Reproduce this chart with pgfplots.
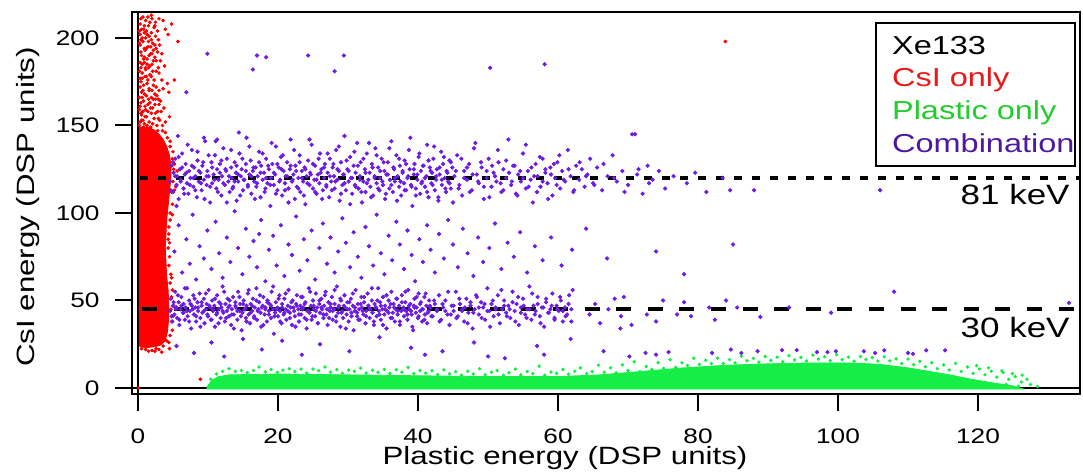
\documentclass[border=0pt]{standalone}
\usepackage{fontspec}
\setmainfont{Liberation Sans}[FakeStretch=1.25]
\usepackage{pgfplots}
\pgfplotsset{compat=1.18}
\definecolor{cred}{RGB}{255,0,0}
\definecolor{cgreen}{RGB}{20,238,70}
\definecolor{cpurp}{RGB}{108,28,228}
\definecolor{lred}{RGB}{232,25,25}
\definecolor{lgreen}{RGB}{35,205,45}
\definecolor{lpurp}{RGB}{78,25,160}
\begin{document}
\begin{tikzpicture}
\useasboundingbox (0,0) rectangle (541.5pt,237.5pt);
\begin{axis}[
  at={(66pt,40.5pt)}, anchor=south west,
  scale only axis, width=474pt, height=191pt,
  xmin=-0.857, xmax=134.57, ymin=-3.43, ymax=214.86,
  xtick={0,20,...,120}, ytick={0,50,...,200},
  xtick pos=left, ytick pos=left,
  tick align=outside, major tick length=8.5pt,
  every tick/.style={black, line width=1pt},
  axis line style={line width=1pt},
  /pgf/number format/assume math mode=true,
  tick label style={font=\fontsize{10.5}{12}\selectfont},
  xticklabel style={inner sep=0pt, anchor=north, yshift=-8.5pt},
  yticklabel style={inner sep=0pt, anchor=east, xshift=-7.5pt},
  clip=true,
]
% zero lines
\addplot[black, line width=0.8pt] coordinates {(-1,0) (135,0)};
\addplot[black, line width=0.8pt] coordinates {(0,-4) (0,215)};
% plastic only: dense core
\addplot[fill=cgreen, draw=cgreen, line width=0.4pt] coordinates {
(9.8,-0.6)(10.0,1.5)(10.6,4.5)(11.5,6.5)(13,7.5)(20,8)(30,7.5)(40,7)(50,6.5)(60,6.5)(66,7.5)(72,9.5)(78,11.5)(84,13)(90,13.8)(96,14.3)(102,14.3)(106,13.5)(110,11.5)(113,9.5)(116,7.5)(119,5)(122,3)(125,1.2)(126.5,-0.6)} -- cycle;
% plastic only: scattered points
\addplot[only marks, mark=*, mark size=0.65pt, color=cgreen] coordinates {
(10.4,5)(11.2,8)(12.1,9.5)(13.0,11)(13.9,9.5)(14.8,10)(15.6,8.8)(16.5,10)(17.3,12)(18.2,9.2)(19.0,10.5)(19.9,8.9)(20.7,10.2)(21.6,11)(22.4,9.4)(23.3,10.8)(24.1,8.6)(25.0,10.8)(25.8,9.9)(26.7,12)(27.5,9)(28.4,10.5)(29.2,8.4)(30.1,10.2)(30.9,9.6)(31.8,11.3)(32.6,8.5)(33.5,10.1)(34.3,9.0)(35.2,10.6)(36.0,8.3)(36.9,10.4)(37.7,9.1)(38.6,11.8)(39.4,8.2)(40.3,10.0)
(41.1,8.5)(42.0,9.8)(42.8,7.6)(43.7,10.4)(44.5,8.1)(45.4,9.3)(46.2,7.4)(47.1,9.6)(47.9,8.0)(48.8,11.0)(49.6,7.6)(50.5,9.0)(51.3,9.9)(52.2,7.3)(53.0,8.7)(53.9,10.8)(54.7,7.5)(55.6,9.4)(56.4,8.2)(57.3,12.5)(58.1,7.3)(59.0,9.1)(59.8,8.4)(60.7,10.6)(61.5,7.8)(62.4,9.6)(63.2,11.5)(64.1,8.1)(64.9,9.4)(65.8,13)
(66.6,9.0)(67.5,11.5)(68.3,8.6)(69.2,13.2)(70.0,10.0)(70.9,15)(71.7,9.4)(72.6,12.3)(73.4,10.6)(74.3,14.5)(75.1,11.2)(76.0,16.2)(76.8,11.8)(77.7,14.4)(78.5,12.8)(79.4,17)(80.2,13.5)(81.1,15.8)(81.9,13.9)(82.8,17.1)(83.6,14.0)(84.5,16.2)(85.3,14.4)(86.2,18.2)(87.0,15.6)(87.9,16.9)(88.7,14.8)(89.6,18.0)
(90.4,15.8)(91.3,17.6)(92.1,15.0)(93.0,18.4)(93.8,16.1)(94.7,17.5)(95.5,15.4)(96.4,18.8)(97.2,16.5)(98.1,17.8)(98.9,15.6)(99.8,19.1)(100.6,16.2)(101.5,17.6)(102.3,15.3)(103.2,18.0)(104.0,16.3)(104.9,17.4)(105.7,15.4)(106.6,17.8)(107.4,15.5)(108.3,16.6)(109.1,14.0)(110.0,16.5)
(110.8,13.3)(111.7,15.2)(112.5,12.1)(113.4,14.4)(114.2,11.1)(115.1,13.2)(115.9,10.3)(116.8,14.0)(117.6,9.4)(118.5,12.0)(119.3,8.3)(120.2,10.9)(121.0,7.5)(121.9,9.6)(122.7,6.2)(123.6,8.8)(124.4,5.0)(125.3,6.5)(126.2,3.4)(127.0,5.0)(127.5,2.0)(125.8,1.0)(124.0,2.0)(122.0,1.5)(128.5,0.8)(123.4,9.8)(126.3,7.4)(124.9,8.2)(121.5,11.5)(119.8,12.8)};
% CsI only: dense core
\addplot[fill=cred, draw=cred, line width=0.4pt] coordinates {
(0.2,24)(1.0,23)(2.2,23.5)(3.2,24.5)(3.9,27)(4.2,32)(4.4,40)(4.4,48)(4.3,56)(4.1,64)(4.0,72)(3.9,80)(4.0,88)(4.1,96)(4.3,104)(4.5,112)(4.7,120)(4.7,127)(4.5,133)(4.1,138)(3.6,142)(3.0,145)(2.3,147.5)(1.4,149)(0.2,149)} -- cycle;
% CsI only: scattered points
\addplot[only marks, mark=*, mark size=0.7pt, color=cred] coordinates {
(0.3,152)(1.2,155)(2.1,151)(0.7,158)(1.8,160)(2.9,154)(0.4,163)(1.5,165)(2.4,162)(3.3,158)(0.9,168)(2.0,170)(0.3,172)(1.3,174)(2.7,167)(3.6,171)(0.6,177)(1.7,179)(2.3,176)(0.2,181)(1.1,183)(2.0,185)(3.0,180)(0.8,188)(1.6,190)(2.6,187)(0.4,192)(1.4,195)(2.2,193)(3.4,191)(0.7,198)(1.9,199)(0.3,202)(1.2,204)(2.5,201)(0.9,207)(1.7,209)(0.4,211)(2.3,206)(1.4,212)(4.8,208)(5.7,198)(3.9,205)(3.1,196)(4.2,174)(5.2,176)(4.4,169)(3.8,184)(0.5,156)(1.0,161)(0.6,166)(1.9,157)(2.6,172)(1.5,183)(0.9,194)(2.9,199)(0.6,185)(1.0,178)(0.2,159)(2.1,181)(3.2,164)(1.3,150)(0.8,149)(2.8,147)(3.5,150)(1.6,170)(0.3,196)(1.1,200)(2.0,211)(0.5,205)(3.6,210)(4.3,202)(1.8,195)(2.4,189)(0.9,186)(1.2,178)(0.4,175)(2.2,165)(3.0,162)(1.4,158)(0.7,153)(2.5,157)(3.9,152)(4.5,155)
(0.2,150)(0.5,153)(0.9,151)(1.6,152)(2.3,154)(2.7,150)(3.1,153)(0.4,157)(1.1,159)(1.4,162)(2.1,160)(2.8,158)(0.3,161)(0.8,164)(1.9,166)(2.4,168)(1.2,167)(0.5,169)(1.6,171)(2.2,173)(3.0,170)(0.8,173)(0.3,177)(1.4,176)(1.9,178)(2.6,181)(0.6,180)(1.1,182)(1.7,184)(0.3,186)(0.9,189)(2.2,187)(1.3,188)(1.8,191)(2.8,192)(0.5,190)(1.0,193)(0.2,197)(1.5,198)(2.4,196)(0.6,200)(1.3,202)(1.9,203)(0.8,205)(2.8,204)(0.3,208)(1.5,207)(1.1,210)(2.5,209)(0.7,212)(1.9,213)(3.2,187)(3.4,176)(2.9,183)(0.4,183)(0.2,166)(1.7,163)(2.5,165)(0.7,170)(1.3,185)(2.0,191)(0.4,199)(1.6,201)(2.1,197)(0.9,203)(2.4,207)(3.0,211)(1.0,155)(1.8,149)(0.6,148.5)(2.9,165)(3.7,160)(0.2,204)(1.2,194)(2.6,194)
(4.6,30)(4.8,38)(4.8,52)(4.6,60)(4.4,70)(4.3,85)(4.4,92)(4.6,100)(4.8,112)(5.0,118)(5.1,125)(4.9,131)(4.6,138)(3.9,146)(4.1,27)(3.0,22)(2.0,21.5)(1.1,22)(0.5,22.5)(3.4,20.5)(2.4,21)(4.7,45)(4.5,22.5)
(4.4,26)(4.9,33)(5.0,41)(5.1,47)(4.9,56)(4.7,65)(4.5,75)(4.3,80)(4.4,88)(4.6,96)(4.9,105)(5.2,113)(5.4,121)(5.2,128)(5.0,135)(4.6,141)(4.2,143)(3.5,147)(4.8,63)(4.5,83)(4.9,99)(5.4,115)(5.6,124)(3.6,24)(2.6,22.5)(1.5,21)
(8.9,5)(0.1,0)(83.9,198)};
% Combination
\addplot[only marks, mark=*, mark size=0.85pt, color=cpurp] coordinates {
(4.6,118)(4.8,127)(5.0,112)(5.1,123)(5.3,131)(5.5,116)(5.6,121)(5.8,108)(6.0,125)(6.1,119)(6.3,134)(6.5,114)(6.7,122)(6.8,128)(7.0,117)(7.2,111)(7.3,124)(7.5,120)(7.7,136)(7.9,115)(8.0,126)(8.2,121)(8.4,109)(8.5,130)(8.7,118)(8.9,123)(9.1,113)(9.2,127)(9.4,119)(9.6,141)(9.8,116)(9.9,124)(10.1,121)(10.3,106)(10.5,129)(10.6,117)(10.8,122)(11.0,133)(11.2,114)(11.3,125)(11.5,119)(11.7,128)(11.9,110)(12.0,121)(12.2,137)(12.4,116)(12.6,124)(12.7,131)(12.9,118)(13.1,112)(13.3,126)(13.4,120)(13.6,115)(13.8,129)(14.0,123)(14.1,107)(14.3,118)(14.5,134)(14.7,121)(14.8,125)(15.0,113)(15.2,119)(15.4,128)(15.5,143)(15.7,116)(15.9,122)(16.1,130)(16.2,111)(16.4,124)(16.6,118)(16.8,126)(16.9,115)(17.1,121)(17.3,135)(17.5,109)(17.6,127)(17.8,119)(18.0,123)(18.2,114)(18.3,131)(18.5,117)(18.7,125)(18.9,104)(19.0,120)(19.2,128)(19.4,116)(19.6,122)(19.7,138)(19.9,113)(20.1,126)(20.3,119)(20.4,132)(20.6,110)(20.8,124)(21.0,117)(21.1,121)(21.3,129)(21.5,114)(21.7,125)(21.8,142)(22.0,118)(22.2,122)(22.4,108)(22.5,127)(22.7,115)(22.9,120)(23.1,133)(23.2,112)(23.4,124)(23.6,118)(23.8,126)(23.9,105)(24.1,121)(24.3,130)(24.5,116)(24.6,123)(24.8,139)(25.0,114)(25.2,119)(25.3,127)(25.5,111)(25.7,122)(25.9,117)(26.0,134)(26.2,125)(26.4,113)(26.6,120)(26.7,128)(26.9,115)(27.1,123)(27.3,109)(27.4,131)(27.6,118)(27.8,126)(28.0,121)(28.1,114)(28.3,136)(28.5,119)(28.7,124)(28.8,107)(29.0,129)(29.2,116)(29.4,122)(29.5,144)(29.7,113)(29.9,125)(30.1,118)(30.3,132)(30.4,120)(30.6,111)(30.8,127)(31.0,116)(31.1,123)(31.3,140)(31.5,114)(31.7,121)(31.8,129)(32.0,106)(32.2,118)(32.4,125)(32.5,112)(32.7,134)(32.9,119)(33.1,123)(33.2,115)(33.4,128)(33.6,110)(33.8,121)(33.9,137)(34.1,117)(34.3,126)(34.5,113)(34.6,120)(34.8,131)(35.0,116)(35.2,124)(35.3,108)(35.5,122)(35.7,129)(35.9,114)(36.0,119)(36.2,141)(36.4,112)(36.6,125)(36.7,118)(36.9,133)(37.1,121)(37.3,115)(37.4,127)(37.6,110)(37.8,123)(38.0,117)(38.1,130)(38.3,113)(38.5,120)(38.7,136)(38.8,125)(39.0,116)(39.2,104)(39.4,122)(39.5,128)(39.7,114)(39.9,119)(40.1,132)(40.3,111)(40.4,124)(40.6,118)(40.8,127)(41.0,115)(41.2,121)(41.3,139)(41.5,109)(41.7,126)(41.9,117)(42.0,123)(42.2,131)(42.4,113)(42.6,119)(42.7,125)(42.9,107)(43.1,122)(43.3,135)(43.4,116)(43.6,128)(43.8,120)(44.0,112)(44.1,124)(44.3,118)(44.5,130)(44.7,114)(44.9,126)
(45.2,121)(45.6,133)(45.9,116)(46.3,110)(46.6,124)(47.0,119)(47.3,128)(47.7,113)(48.0,137)(48.4,122)(48.7,117)(49.1,126)(49.4,108)(49.8,120)(50.1,131)(50.5,115)(50.8,123)(51.2,118)(51.5,129)(51.9,112)(52.2,125)(52.6,120)(52.9,142)(53.3,116)(53.6,127)(54.0,111)(54.3,122)(54.7,118)(55.0,134)(55.4,114)(55.7,124)(56.1,119)(56.4,106)(56.8,128)(57.1,121)(57.5,115)(57.8,131)(58.2,123)(58.5,117)(58.9,126)(59.2,110)(59.6,120)(59.9,129)(60.3,114)(60.6,124)(61.0,118)(61.4,136)(61.8,121)(62.2,112)(62.6,127)(63.0,119)(63.4,125)(63.8,115)(64.2,122)(64.6,131)(65.0,117)
(65.6,126)(66.3,113)(67.1,121)(67.8,133)(68.4,118)(69.2,124)(70.0,116)(70.6,145)(71.3,122)(72.1,111)(72.8,127)(73.5,119)(74.4,124)(75.3,114)(76.5,121)(78.4,117)(79.6,123)(81.2,112)(83.5,120)(84.6,113)(88.0,113)(106.0,113)
(4.7,113)(5.0,129)(5.3,121)(5.5,104)(5.8,132)(6.1,118)(6.3,126)(6.6,111)(6.9,123)(7.1,139)(7.4,116)(7.7,127)(7.9,120)(8.2,113)(8.5,135)(8.7,124)(9.0,117)(9.3,129)(9.5,108)(9.8,121)(10.1,133)(10.3,115)(10.6,126)(10.9,119)(11.1,141)(11.4,112)(11.7,123)(11.9,130)(12.2,117)(12.5,125)(12.7,106)(13.0,121)(13.3,136)(13.5,114)(13.8,118)(14.1,127)(14.3,122)(14.6,110)(14.9,131)(15.1,119)(15.4,124)(15.7,115)(15.9,138)(16.2,121)(16.5,126)(16.7,108)(17.0,117)(17.3,129)(17.5,123)(17.8,134)(18.1,112)(18.3,120)(18.6,127)(18.9,116)(19.1,140)(19.4,123)(19.7,111)(19.9,128)(20.2,118)(20.5,125)(20.7,133)(21.0,113)(21.3,121)(21.5,106)(21.8,127)(22.1,119)(22.3,136)(22.6,124)(22.9,114)(23.1,129)(23.4,120)(23.7,110)(23.9,125)(24.2,117)(24.5,142)(24.7,122)(25.0,128)(25.3,112)(25.5,119)(25.8,131)(26.1,123)(26.3,108)(26.6,126)(26.9,116)(27.1,134)(27.4,121)(27.7,113)(27.9,128)(28.2,118)(28.5,125)(28.7,138)(29.0,111)(29.3,122)(29.5,117)(29.8,130)(30.1,124)(30.3,105)(30.6,120)(30.9,135)(31.1,115)(31.4,127)(31.7,119)(31.9,112)(32.2,131)(32.5,123)(32.7,117)(33.0,140)(33.3,109)(33.5,126)(33.8,120)(34.1,133)(34.3,114)(34.6,124)(34.9,118)(35.1,129)(35.4,111)(35.7,122)(35.9,137)(36.2,116)(36.5,126)(36.7,120)(37.0,107)(37.3,131)(37.5,118)(37.8,124)(38.1,113)(38.3,128)(38.6,121)(38.9,143)(39.1,115)(39.4,125)(39.7,110)(39.9,122)(40.2,134)(40.5,117)(40.7,127)(41.0,120)(41.3,112)(41.5,130)(41.8,124)(42.1,116)(42.3,138)(42.6,121)(42.9,109)(43.1,126)(43.4,119)(43.7,132)(43.9,114)(44.2,123)(44.5,117)(44.7,129)(45.0,106)(45.4,124)(45.8,114)(46.2,131)(46.6,120)(47.0,126)(47.4,112)(47.8,122)(48.2,140)(48.6,118)(49.0,129)(49.4,115)(49.8,124)(50.2,109)(50.6,127)(51.0,121)(51.4,136)(51.8,117)(52.2,113)(52.6,130)(53.0,123)(53.4,118)(53.8,127)(54.2,110)(54.6,124)(55.0,120)(55.4,139)(55.8,115)(56.2,126)(56.6,121)(57.0,112)(57.4,132)(57.8,118)(58.2,125)(58.6,108)(59.0,122)(59.4,128)(59.8,116)(60.2,133)(60.8,119)(61.5,125)(62.3,113)(63.1,129)(64.0,121)(65.2,116)(66.5,128)(68.0,120)(69.5,112)(71.5,125)(73.0,117)
(4.6,44)(4.7,51)(4.9,38)(5.0,47)(5.2,42)(5.3,55)(5.5,46)(5.6,40)(5.8,49)(5.9,36)(6.1,45)(6.2,52)(6.4,43)(6.5,48)(6.7,39)(6.8,46)(7.0,57)(7.1,41)(7.3,50)(7.4,44)(7.6,34)(7.7,47)(7.9,53)(8.0,42)(8.2,46)(8.3,38)(8.5,49)(8.6,44)(8.8,54)(8.9,40)(9.1,47)(9.2,43)(9.4,51)(9.5,37)(9.7,45)(9.8,48)(10.0,41)(10.1,56)(10.3,46)(10.4,39)(10.6,50)(10.7,44)(10.9,47)(11.0,35)(11.2,42)(11.3,53)(11.5,45)(11.6,49)(11.8,40)(11.9,46)(12.1,58)(12.2,43)(12.4,38)(12.5,48)(12.7,44)(12.8,51)(13.0,41)(13.1,47)(13.3,36)(13.4,45)(13.6,52)(13.7,42)(13.9,49)(14.0,46)(14.2,39)(14.3,55)(14.5,44)(14.6,48)(14.8,33)(14.9,43)(15.1,50)(15.2,45)(15.4,40)(15.5,47)(15.7,54)(15.8,42)(16.0,37)(16.1,48)(16.3,44)(16.4,51)(16.6,41)(16.7,46)(16.9,57)(17.0,39)(17.2,45)(17.3,49)(17.5,43)(17.6,35)(17.8,47)(17.9,52)(18.1,42)(18.2,46)(18.4,38)(18.5,50)(18.7,44)(18.8,48)(19.0,40)(19.1,55)(19.3,45)(19.4,31)(19.6,43)(19.7,49)(19.9,46)(20.0,41)(20.2,53)(20.3,44)(20.5,37)(20.6,48)(20.8,42)(20.9,51)(21.1,45)(21.2,39)(21.4,47)(21.5,56)(21.7,43)(21.8,46)(22.0,36)(22.1,50)(22.3,44)(22.4,41)(22.6,48)(22.7,53)(22.9,45)(23.0,38)(23.2,47)(23.3,42)(23.5,52)(23.6,46)(23.8,40)(23.9,49)(24.1,34)(24.2,44)(24.4,57)(24.5,43)(24.7,47)(24.8,39)(25.0,50)(25.1,45)(25.3,41)(25.4,54)(25.6,46)(25.7,37)(25.9,48)(26.0,43)(26.2,51)(26.3,45)(26.5,40)(26.6,47)(26.8,55)(26.9,42)(27.1,36)(27.2,49)(27.4,44)(27.5,46)(27.7,52)(27.8,39)(28.0,45)(28.1,48)(28.3,41)(28.4,58)(28.6,43)(28.7,47)(28.9,35)(29.0,50)(29.2,44)(29.3,40)(29.5,53)(29.6,46)(29.8,42)(29.9,49)(30.1,38)(30.2,45)(30.4,51)(30.5,43)(30.7,47)(30.8,33)(31.0,44)(31.1,56)(31.3,41)(31.4,48)(31.6,45)(31.7,39)(31.9,52)(32.0,46)(32.2,42)(32.3,49)(32.5,37)(32.6,44)(32.8,54)(32.9,47)(33.1,40)(33.2,45)(33.4,50)(33.5,43)(33.7,36)(33.8,48)(34.0,46)(34.1,41)(34.3,57)(34.4,44)(34.6,49)(34.7,39)(34.9,45)(35.0,52)(35.2,42)(35.3,47)(35.5,34)(35.6,44)(35.8,50)(35.9,46)(36.1,40)(36.2,55)(36.4,43)(36.5,48)(36.7,38)(36.8,45)(37.0,51)(37.1,42)(37.3,47)(37.4,36)(37.6,44)(37.7,53)(37.9,46)(38.0,41)(38.2,49)(38.3,44)(38.5,39)(38.6,56)(38.8,45)(38.9,48)(39.1,42)(39.2,35)(39.4,47)(39.5,51)(39.7,43)(39.8,46)(40.0,40)(40.1,54)(40.3,44)(40.4,49)(40.6,38)(40.7,45)(40.9,52)(41.0,42)(41.2,47)(41.3,37)(41.5,44)(41.6,50)(41.8,46)
(42.1,41)(42.4,48)(42.7,44)(43.0,53)(43.3,39)(43.6,46)(43.9,50)(44.2,42)(44.5,36)(44.8,47)(45.1,44)(45.4,55)(45.7,41)(46.0,48)(46.3,45)(46.6,38)(46.9,51)(47.2,43)(47.5,47)(47.8,34)(48.1,45)(48.4,52)(48.7,42)(49.0,49)(49.3,46)(49.6,39)(49.9,57)(50.2,44)(50.5,48)(50.8,41)(51.1,46)(51.4,53)(51.7,37)(52.0,45)(52.3,50)(52.6,43)(52.9,47)(53.2,40)(53.5,55)(53.8,44)(54.1,48)(54.4,36)(54.7,46)(55.0,51)(55.3,42)(55.6,45)(55.9,58)(56.2,39)(56.5,47)(56.8,44)(57.1,52)(57.4,41)(57.7,46)(58.0,35)(58.3,49)(58.6,43)(58.9,45)(59.2,54)(59.5,40)(59.8,47)(60.1,44)(60.4,50)(60.7,38)(61.0,46)(61.3,42)(61.6,53)(61.9,45)
(4.8,41)(5.1,49)(5.4,45)(5.7,53)(5.9,39)(6.2,47)(6.5,43)(6.7,57)(7.0,44)(7.3,38)(7.5,48)(7.8,45)(8.1,51)(8.3,41)(8.6,46)(8.9,35)(9.1,49)(9.4,44)(9.7,54)(9.9,42)(10.2,47)(10.5,39)(10.7,45)(11.0,51)(11.3,43)(11.5,37)(11.8,48)(12.1,44)(12.3,55)(12.6,40)(12.9,46)(13.1,50)(13.4,42)(13.7,34)(13.9,47)(14.2,44)(14.5,52)(14.7,41)(15.0,48)(15.3,45)(15.5,38)(15.8,56)(16.1,43)(16.3,47)(16.6,40)(16.9,50)(17.1,44)(17.4,53)(17.7,46)(17.9,36)(18.2,45)(18.5,49)(18.7,42)(19.0,47)(19.3,58)(19.5,41)(19.8,45)(20.1,51)(20.3,38)(20.6,46)(20.9,43)(21.1,54)(21.4,44)(21.7,40)(21.9,49)(22.2,46)(22.5,35)(22.7,47)(23.0,42)(23.3,52)(23.5,45)(23.8,48)(24.1,39)(24.3,44)(24.6,55)(24.9,41)(25.1,47)(25.4,44)(25.7,37)(25.9,50)(26.2,46)(26.5,42)(26.7,53)(27.0,45)(27.3,40)(27.5,48)(27.8,44)(28.1,56)(28.3,38)(28.6,46)(28.9,51)(29.1,43)(29.4,47)(29.7,34)(29.9,45)(30.2,49)(30.5,41)(30.7,54)(31.0,46)(31.3,43)(31.5,39)(31.8,48)(32.1,44)(32.3,52)(32.6,41)(32.9,47)(33.1,45)(33.4,57)(33.7,38)(33.9,46)(34.2,50)(34.5,42)(34.7,47)(35.0,36)(35.3,45)(35.5,53)(35.8,43)(36.1,48)(36.3,40)(36.6,46)(36.9,51)(37.1,44)(37.4,38)(37.7,49)(37.9,45)(38.2,55)(38.5,42)(38.7,47)(39.0,44)(39.3,33)(39.5,46)(39.8,52)(40.1,41)(40.3,48)(40.6,45)(40.9,39)(41.1,54)(41.4,43)(41.7,47)(41.9,41)(42.3,50)(42.7,45)(43.1,38)(43.5,48)(43.9,44)(44.3,55)(44.7,42)(45.1,47)(45.5,40)(45.9,51)(46.3,44)(46.7,46)(47.1,37)(47.5,49)(47.9,43)(48.3,53)(48.7,46)(49.1,40)(49.5,48)(49.9,44)(50.3,35)(50.7,50)(51.1,45)(51.5,42)(51.9,56)(52.3,47)(52.7,41)(53.1,45)(53.5,49)(53.9,38)(54.3,52)(54.7,43)(55.1,47)(55.5,40)(55.9,45)(56.3,54)(56.7,42)(57.1,48)(57.5,37)(57.9,46)(58.3,51)(58.7,43)(59.1,47)(59.5,39)(59.9,45)(60.3,52)(60.7,44)(61.1,41)(61.5,48)(61.9,38)
(62.1,56)(64.5,42)(65.3,48)(66.0,37)(67.2,45)(68.1,51)(68.9,34)(69.4,52)(69.0,41)(70.5,36)(72.7,42)(74.0,38)(75.0,50)(77.0,42)(78.0,49)(79.0,41)(81.6,46)(82.4,39)(84.0,50)(85.6,46)(88.9,40.6)(93.0,46)(99.0,43)(108.0,55)(133.0,48.6)
(5.2,78)(5.8,93)(6.3,66)(6.9,85)(7.4,71)(7.8,99)(8.3,62)(8.8,81)(9.4,74)(9.9,90)(10.5,68)(11.1,95)(11.6,77)(12.1,63)(12.7,86)(13.2,72)(13.8,101)(14.3,80)(14.9,65)(15.4,91)(15.9,75)(16.5,84)(17.0,69)(17.3,88)(17.6,96)(18.2,61)(18.7,79)(19.3,87)(19.8,70)(20.4,93)(20.9,64)(21.5,82)(22.0,76)(22.6,98)(23.1,67)(23.7,85)(24.2,73)(24.8,90)(25.3,62)(25.9,80)(26.4,94)(27.0,71)(27.5,86)(28.1,66)(28.6,78)(29.2,97)(29.7,83)(30.3,69)(30.8,89)(31.4,75)(31.9,63)(32.5,92)(33.0,81)(33.6,70)(34.1,99)(34.7,77)(35.2,65)(35.8,87)(36.3,73)(36.9,95)(37.4,82)(38.0,68)(38.5,90)(39.1,76)(39.6,61)(40.2,85)(40.7,72)(41.3,93)(41.8,79)(42.4,66)(43.0,88)(43.7,74)(44.3,96)(45.0,82)(45.7,69)(46.4,91)(47.1,77)(47.9,64)(48.6,86)(49.3,72)(50.2,80)(51.0,94)(51.9,68)(52.8,83)(53.7,75)(54.6,89)(55.6,66)(56.7,81)(57.8,73)(59.0,86)(60.5,70)(62.0,79)(64.0,91)(67.0,74)(74.0,78)(78.0,65)(85.0,82)
(5.5,24)(8.0,20)(10.5,26)(12.3,18)(15.0,28)(17.7,22)(20.6,27)(23.4,19)(26.0,25)(30.2,21)(34.5,29)(39.0,23)(41.0,19)(43.5,21)(48.0,26)(50.0,18)(52.4,17)(57.0,24)(58.0,19)(61.8,28)(66.5,21)(70.2,18)(72.5,20)(74.0,19)(75.8,20.5)(82.0,20)(84.7,22)(86.2,20)(88.5,21)(92.0,21.6)(94.1,21.6)(97.0,20.5)(98.5,20.5)(99.7,21)(103.7,21)(105.3,20)(106.6,21.5)(110.0,20)(110.7,19.5)(112.6,21.5)(115.3,21.5)
(6.9,169)(9.9,191)(16.4,182)(17.0,190)(18.3,189)(24.3,190)(28.1,181)(29.4,190)(50.3,183)(58.1,185)(71.0,145)(5.7,144)(9.4,143)(11.3,142)(14.4,146)};
% energy lines
\addplot[black, line width=2.2pt, dash pattern=on 4pt off 5pt] coordinates {(0.3,120) (134.6,120)};
\addplot[black, line width=2.2pt, dash pattern=on 7.5pt off 8.3pt] coordinates {(0.6,45) (134.6,45)};
\end{axis}
% labels
\node[anchor=base, font=\fontsize{12.5}{14}\selectfont] at (282.5pt,5pt) {Plastic energy (DSP units)};
\node[anchor=base, rotate=90, font=\fontsize{12.5}{14}\selectfont] at (17pt,134pt) {CsI energy (DSP units)};
\node[anchor=base east, inner sep=0pt, font=\fontsize{14}{16}\selectfont] at (535pt,135pt) {81 keV};
\node[anchor=base east, inner sep=0pt, font=\fontsize{14}{16}\selectfont] at (535pt,68.65pt) {30 keV};
% legend box
\draw[black, line width=0.8pt, fill=white] (438pt,154.5pt) rectangle (537.5pt,226pt);
\begin{scope}[every node/.style={anchor=base west, inner sep=0pt, font=\fontsize{13}{15}\selectfont}]
\node at (445.85pt,210pt) {Xe133};
\node[text=lred] at (445.85pt,194.15pt) {CsI only};
\node[text=lgreen] at (445.85pt,177.5pt) {Plastic only};
\node[text=lpurp] at (445.85pt,161.15pt) {Combination};
\end{scope}
\end{tikzpicture}
\end{document}
